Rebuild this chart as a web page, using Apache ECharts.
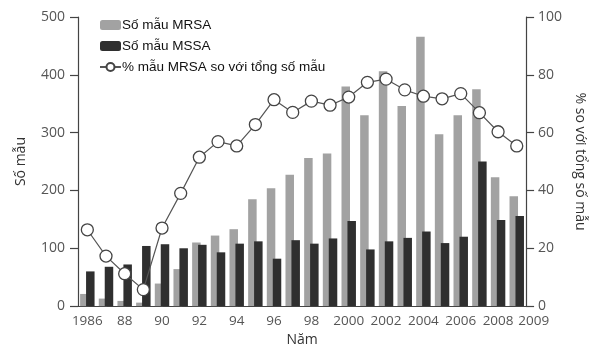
<!DOCTYPE html>
<html>
<head>
<meta charset="utf-8">
<script src="https://cdn.jsdelivr.net/npm/echarts@6/dist/echarts.min.js"></script>
<style>
html, body { margin: 0; padding: 0; background: #fff; }
#chart { width: 595px; height: 352px; }
</style>
</head>
<body>
<div id="chart"></div>
<script>
const years = ['1986','1987','1988','1989','1990','1991','1992','1993','1994','1995','1996','1997',
	'1998','1999','2000','2001','2002','2003','2004','2005','2006','2007','2008','2009'];
const tickLabels = ['1986','','88','','90','','92','','94','','96','',
	'98','','2000','','2002','','2004','','2006','','2008','2009'];
const mrsa = [21, 13, 9, 6, 39, 64, 110, 122, 133, 185, 204, 227, 256, 264, 380, 330, 406, 346, 466, 297, 330, 375, 223, 190];
const mssa = [60, 68, 72, 104, 107, 100, 106, 93, 108, 112, 82, 114, 108, 117, 147, 98, 112, 118, 129, 109, 120, 250, 149, 156];
const pctMrsa = [26.4, 17.3, 11.2, 5.7, 27, 39, 51.5, 56.9, 55.4, 62.8, 71.4, 67, 70.9, 69.5, 72.3, 77.4, 78.5, 74.8, 72.6, 71.7, 73.5, 66.9, 60.3, 55.4];

const tickFont = 'Open Sans';
const axisColor = '#444';

const chart = echarts.init(document.getElementById('chart'), null, {renderer: 'canvas'});
chart.setOption({
	animation: false,
	grid: {left: 78, right: 67, top: 17, bottom: 42},
	legend: {
		orient: 'vertical',
		left: 94,
		top: 13,
		itemWidth: 21,
		itemHeight: 10,
		itemGap: 7,
		textStyle: {fontFamily: 'Liberation Sans', fontSize: 13.5, color: '#111', padding: [0, 0, 0, -4]},
		data: ['Số mẫu MRSA', 'Số mẫu MSSA', '% mẫu MRSA so với tổng số mẫu']
	},
	xAxis: {
		type: 'category',
		data: years,
		name: 'Năm',
		nameLocation: 'middle',
		nameGap: 22,
		nameTextStyle: {fontFamily: tickFont, fontSize: 14, color: '#333'},
		axisLine: {lineStyle: {color: axisColor, width: 1.2}},
		axisTick: {interval: 0, length: 7, lineStyle: {color: axisColor, width: 1.2}},
		axisLabel: {
			interval: 0,
			margin: 8,
			fontFamily: tickFont,
			fontSize: 13.5,
			color: '#555',
			formatter: (v, i) => i === years.length - 1 ? '{last|' + tickLabels[i] + '}' : tickLabels[i],
			rich: {
				last: {fontFamily: tickFont, fontSize: 13.5, color: '#555', padding: [0, 0, 0, 34]}
			}
		}
	},
	yAxis: [
		{
			type: 'value',
			min: 0,
			max: 500,
			interval: 100,
			name: 'Số mẫu',
			nameLocation: 'middle',
			nameGap: 50,
			nameTextStyle: {fontFamily: tickFont, fontSize: 14, color: '#333'},
			axisLine: {show: true, lineStyle: {color: axisColor, width: 1.2}},
			axisTick: {show: true, length: 8, lineStyle: {color: axisColor, width: 1.2}},
			axisLabel: {margin: 13, fontFamily: tickFont, fontSize: 14, color: '#555'},
			splitLine: {show: false}
		},
		{
			type: 'value',
			min: 0,
			max: 100,
			interval: 20,
			position: 'right',
			name: '% so với tổng số mẫu',
			nameLocation: 'middle',
			nameGap: 44,
			nameRotate: -90,
			nameTextStyle: {fontFamily: tickFont, fontSize: 14, color: '#333'},
			axisLine: {show: true, lineStyle: {color: axisColor, width: 1.2}},
			axisTick: {show: true, length: 8, lineStyle: {color: axisColor, width: 1.2}},
			axisLabel: {margin: 12, fontFamily: tickFont, fontSize: 14, color: '#555'},
			splitLine: {show: false}
		}
	],
	series: [
		{
			name: 'Số mẫu MRSA',
			type: 'bar',
			data: mrsa,
			barWidth: 8.5,
			barGap: '-30%',
			itemStyle: {color: '#a2a2a2'}
		},
		{
			name: 'Số mẫu MSSA',
			type: 'bar',
			data: mssa,
			barWidth: 8.5,
			barGap: '-30%',
			itemStyle: {color: '#2f2f2f'}
		},
		{
			name: '% mẫu MRSA so với tổng số mẫu',
			type: 'line',
			yAxisIndex: 1,
			data: pctMrsa,
			symbol: 'circle',
			symbolSize: 12,
			z: 5,
			lineStyle: {color: '#555', width: 1.2},
			itemStyle: {color: '#fff', borderColor: '#444', borderWidth: 1.3}
		}
	]
});
</script>
</body>
</html>
